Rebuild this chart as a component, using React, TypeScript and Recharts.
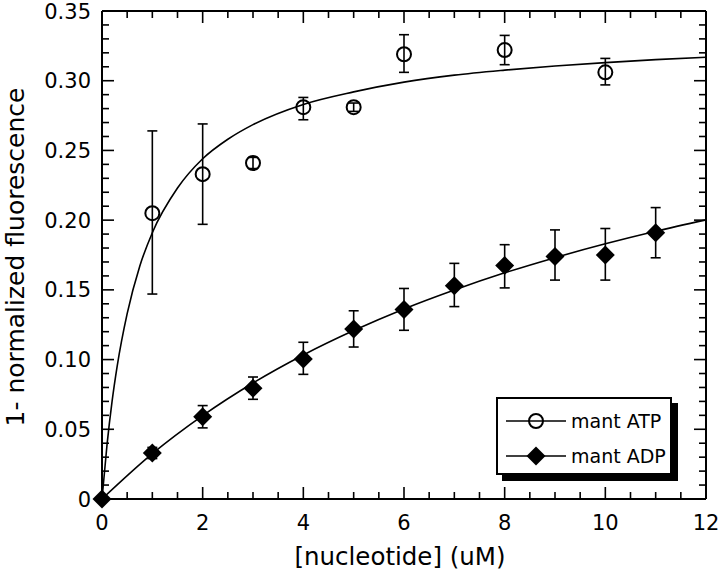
import React from 'react';
import {
  ComposedChart, Line, Scatter, XAxis, YAxis, ErrorBar, Legend, Label, ReferenceLine,
} from 'recharts';

// ---- data ----
const atpX = [1, 2, 3, 4, 5, 6, 8, 10];
const atpY = [0.205, 0.233, 0.241, 0.281, 0.281, 0.319, 0.322, 0.306];
const atpErrLow = [0.058, 0.036, 0.004, 0.009, 0.003, 0.013, 0.0105, 0.009];
const atpErrHigh = [0.059, 0.036, 0.004, 0.007, 0.003, 0.014, 0.0105, 0.010];

const adpX = [0, 1, 2, 3, 4, 5, 6, 7, 8, 9, 10, 11];
const adpY = [0, 0.033, 0.059, 0.0795, 0.1004, 0.122, 0.136, 0.153, 0.1674, 0.174, 0.175, 0.191];
const adpErrLow = [0, 0.004, 0.008, 0.008, 0.011, 0.013, 0.015, 0.015, 0.016, 0.017, 0.018, 0.018];
const adpErrHigh = [0, 0.004, 0.008, 0.008, 0.012, 0.013, 0.015, 0.016, 0.015, 0.019, 0.019, 0.018];

// fitted curves
const atpCurveX = [0, 0.1, 0.2, 0.3, 0.5, 0.75, 1, 1.5, 2, 2.5, 3, 4, 5, 6, 7, 8, 9, 10, 11, 12];
const atpCurveY = [0, 0.039, 0.07, 0.095, 0.133, 0.167, 0.191, 0.223, 0.244, 0.258, 0.2685, 0.283, 0.292, 0.299, 0.304, 0.3076, 0.3106, 0.313, 0.3151, 0.3168];
const adpCurveX = [0, 1, 2, 3, 4, 5, 6, 7, 8, 9, 10, 11, 12];
const adpCurveY = [0, 0.0325, 0.0598, 0.0832, 0.1033, 0.1208, 0.1363, 0.1499, 0.1622, 0.1731, 0.183, 0.192, 0.2002];

const xMajor = [0, 2, 4, 6, 8, 10, 12];
const xMinor = [0.5, 1, 1.5, 2.5, 3, 3.5, 4.5, 5, 5.5, 6.5, 7, 7.5, 8.5, 9, 9.5, 10.5, 11, 11.5];
const yMajor = [0, 0.05, 0.1, 0.15, 0.2, 0.25, 0.3, 0.35];
const yMajorLabels = ['0', '0.05', '0.10', '0.15', '0.20', '0.25', '0.30', '0.35'];
const yMinor = [0.01, 0.02, 0.03, 0.04, 0.06, 0.07, 0.08, 0.09, 0.11, 0.12, 0.13, 0.14, 0.16, 0.17, 0.18, 0.19, 0.21, 0.22, 0.23, 0.24, 0.26, 0.27, 0.28, 0.29, 0.31, 0.32, 0.33, 0.34];

const atpPoints = atpX.map((x, i) => ({ x, y: atpY[i], err: [atpErrLow[i], atpErrHigh[i]] }));
const adpPoints = adpX.map((x, i) => ({ x, y: adpY[i], err: [adpErrLow[i], adpErrHigh[i]] }));
const atpCurve = atpCurveX.map((x, i) => ({ x, y: atpCurveY[i] }));
const adpCurve = adpCurveX.map((x, i) => ({ x, y: adpCurveY[i] }));

const FONT = 'DejaVu Sans, sans-serif';
const MAJ = 12;
const MINL = 7;
const TW = 1.6;

const BottomLabel = (p: any) => (
  <text x={Number(p.x)} y={Number(p.y) + 31} textAnchor="middle" fontFamily={FONT} fontSize={21} fill="#000">
    {String(p.payload.value)}
  </text>
);
const LeftLabel = (p: any) => {
  const idx = yMajor.findIndex((a) => Math.abs(a - Number(p.payload.value)) < 1e-9);
  return (
    <text x={Number(p.x) - 11} y={Number(p.y)} dy="0.36em" textAnchor="end" fontFamily={FONT} fontSize={21} fill="#000">
      {idx >= 0 ? yMajorLabels[idx] : ''}
    </text>
  );
};

// tick marks on both ends of a (hidden) reference line: inward ticks on the frame
const vTicks = (len: number) => (p: any) => {
  const x = Number(p.x1);
  const top = Math.min(Number(p.y1), Number(p.y2));
  const bot = Math.max(Number(p.y1), Number(p.y2));
  return (
    <g>
      <line x1={x} y1={bot} x2={x} y2={bot - len} stroke="#000" strokeWidth={TW} />
      <line x1={x} y1={top} x2={x} y2={top + len} stroke="#000" strokeWidth={TW} />
    </g>
  );
};
const hTicks = (len: number) => (p: any) => {
  const y = Number(p.y1);
  const left = Math.min(Number(p.x1), Number(p.x2));
  const right = Math.max(Number(p.x1), Number(p.x2));
  return (
    <g>
      <line x1={left} y1={y} x2={left + len} y2={y} stroke="#000" strokeWidth={TW} />
      <line x1={right} y1={y} x2={right - len} y2={y} stroke="#000" strokeWidth={TW} />
    </g>
  );
};
const vMajShape = vTicks(MAJ);
const vMinShape = vTicks(MINL);
const hMajShape = hTicks(MAJ);
const hMinShape = hTicks(MINL);

const Circle = (p: any) => (
  <circle cx={p.cx} cy={p.cy} r={7} fill="none" stroke="#000" strokeWidth={2} />
);
const Diamond = (p: any) => {
  const { cx, cy } = p;
  const r = 9.5;
  return <polygon points={`${cx},${cy - r} ${cx + r},${cy} ${cx},${cy + r} ${cx - r},${cy}`} fill="#000" />;
};

const legendOrder = ['mant ATP', 'mant ADP'];

const LegendBox = (props: any) => {
  const items = (props.payload || [])
    .filter((it: any) => legendOrder.includes(it.value))
    .sort((a: any, b: any) => legendOrder.indexOf(a.value) - legendOrder.indexOf(b.value));
  const rowsY = [24, 59];
  return (
    <svg width={184} height={86} style={{ display: 'block' }}>
      <rect x={6} y={6} width={176} height={78} fill="#000" />
      <rect x={1} y={1} width={174} height={76} fill="#fff" stroke="#000" strokeWidth={2} />
      {items.map((it: any, i: number) => {
        const cy = rowsY[i];
        return (
          <g key={it.value}>
            <line x1={10} y1={cy} x2={70} y2={cy} stroke="#000" strokeWidth={1.6} />
            {it.value === 'mant ATP' ? <Circle cx={40} cy={cy} /> : <Diamond cx={40} cy={cy} />}
            <text x={75} y={cy} dy="0.36em" fontFamily={FONT} fontSize={19} fill="#000">{it.value}</text>
          </g>
        );
      })}
    </svg>
  );
};

export default function App() {
  return (
    <div style={{ position: 'absolute', left: 0, top: 0, width: 720, height: 578, background: '#fff' }}>
      <ComposedChart width={720} height={578} margin={{ top: 11, right: 14, bottom: 0, left: 0 }}>
        <XAxis
          dataKey="x" type="number" domain={[0, 12]} ticks={xMajor} interval={0}
          height={79} tickSize={0} tickMargin={0} tickLine={false}
          tick={(p: any) => <BottomLabel {...p} />} axisLine={{ stroke: '#000', strokeWidth: 2 }}
        >
          <Label
            content={(lp: any) => {
              const vb = lp.viewBox;
              return (
                <text x={vb.x + vb.width / 2 - 4} y={565} textAnchor="middle" fontFamily={FONT} fontSize={24.5} fill="#000">
                  [nucleotide] (uM)
                </text>
              );
            }}
          />
        </XAxis>
        <YAxis
          type="number" domain={[0, 0.35]} ticks={yMajor} interval={0} width={102}
          tickSize={0} tickMargin={0} tickLine={false} tick={(p: any) => <LeftLabel {...p} />}
          axisLine={{ stroke: '#000', strokeWidth: 2 }}
        >
          <Label
            content={(lp: any) => {
              const vb = lp.viewBox;
              const cx = 24;
              const cy = vb.y + vb.height / 2 + 2;
              return (
                <text x={cx} y={cy} transform={`rotate(-90, ${cx}, ${cy})`} textAnchor="middle" fontFamily={FONT} fontSize={25} fill="#000">
                  1- normalized fluorescence
                </text>
              );
            }}
          />
        </YAxis>

        {/* frame: top and right edges */}
        <ReferenceLine y={0.35} stroke="#000" strokeWidth={2} />
        <ReferenceLine x={12} stroke="#000" strokeWidth={2} />
        {/* inward ticks on all four sides */}
        {xMajor.map((v) => <ReferenceLine key={`xM${v}`} x={v} shape={vMajShape} />)}
        {xMinor.map((v) => <ReferenceLine key={`xm${v}`} x={v} shape={vMinShape} />)}
        {yMajor.map((v) => <ReferenceLine key={`yM${v}`} y={v} shape={hMajShape} />)}
        {yMinor.map((v) => <ReferenceLine key={`ym${v}`} y={v} shape={hMinShape} />)}

        <Line data={atpCurve} dataKey="y" type="monotone" dot={false} stroke="#000" strokeWidth={1.6} isAnimationActive={false} legendType="none" />
        <Line data={adpCurve} dataKey="y" type="monotone" dot={false} stroke="#000" strokeWidth={1.6} isAnimationActive={false} legendType="none" />
        <Scatter name="mant ATP" data={atpPoints} dataKey="y" shape={<Circle />} isAnimationActive={false}>
          <ErrorBar dataKey="err" direction="y" width={5} stroke="#000" strokeWidth={1.6} />
        </Scatter>
        <Scatter name="mant ADP" data={adpPoints} dataKey="y" shape={<Diamond />} isAnimationActive={false}>
          <ErrorBar dataKey="err" direction="y" width={5} stroke="#000" strokeWidth={1.6} />
        </Scatter>
        <Legend
          layout="vertical" align="center" verticalAlign="middle"
          wrapperStyle={{ left: 496, top: 397, width: 184, height: 86 }}
          content={(p: any) => <LegendBox {...p} />}
        />
      </ComposedChart>
    </div>
  );
}
